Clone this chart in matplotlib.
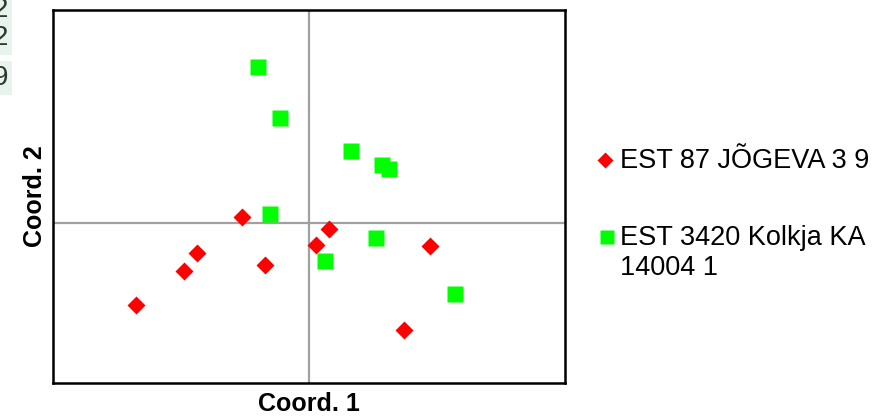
import matplotlib
matplotlib.use('Agg')
import matplotlib.pyplot as plt
from matplotlib.lines import Line2D

plt.rcParams['font.family'] = ['Liberation Sans', 'DejaVu Sans']

# PCoA scores
jogeva_x = [-0.263, 0.077, 0.029, 0.471, -0.438, -0.170, -0.487, -0.675, 0.370]
jogeva_y = [0.030, -0.028, -0.103, -0.107, -0.142, -0.198, -0.224, -0.382, -0.503]
kolkja_x = [-0.198, -0.115, 0.164, 0.286, 0.312, -0.154, 0.261, 0.064, 0.569]
kolkja_y = [0.733, 0.491, 0.339, 0.275, 0.253, 0.041, -0.072, -0.178, -0.332]

labels = ['EST 87 JÕGEVA 3 9', ['EST 3420 Kolkja KA', '14004 1']]
red = '#ff0000'
green = '#00ff00'

W, H = 876, 416
fig = plt.figure(figsize=(W / 100, H / 100), dpi=100)
ax = fig.add_axes([53 / W, 33 / H, 512 / W, 373 / H])

ax.axhline(0, color='#a0a0a0', lw=1.6, zorder=1)
ax.axvline(0, color='#a0a0a0', lw=1.6, zorder=1)
ax.plot(kolkja_x, kolkja_y, 's', color=green, ms=11.3, mec='none', zorder=3)
ax.plot(jogeva_x, jogeva_y, 'D', color=red, ms=9.5, mec='none', zorder=3)

ax.set_xlim(-1, 1)
ax.set_ylim(-0.75, 1.0)
ax.set_xticks([])
ax.set_yticks([])
for s in ax.spines.values():
    s.set_linewidth(1.8)
    s.set_color('black')

ax.set_xlabel('Coord. 1', fontsize=18, fontweight='bold', labelpad=6.5)
ax.set_ylabel('Coord. 2', fontsize=18, fontweight='bold', labelpad=4)

# legend, drawn by hand so the square sits on the first text line
fig.add_artist(Line2D([605 / W], [1 - 160 / H], marker='D', color=red, ms=8,
                      mec='none', transform=fig.transFigure))
fig.add_artist(Line2D([607 / W], [1 - 237 / H], marker='s', color=green, ms=9.5,
                      mec='none', transform=fig.transFigure))
fig.text(620 / W, 1 - 161 / H, labels[0], fontsize=19.5, va='center', ha='left')
for y, line in zip([238, 268], labels[1]):
    fig.text(620 / W, 1 - y / H, line, fontsize=19.5, va='center', ha='left')

# clipped fragments at the top-left edge
for y, t in [(10, '2'), (38, '2'), (78, '9')]:
    fig.text(8 / W, 1 - y / H, t, fontsize=20, ha='right', va='center', color='#333333',
             bbox=dict(boxstyle='square,pad=0.15', fc='#e6f4ec', ec='none'))

fig.savefig('out.png', dpi=100)
